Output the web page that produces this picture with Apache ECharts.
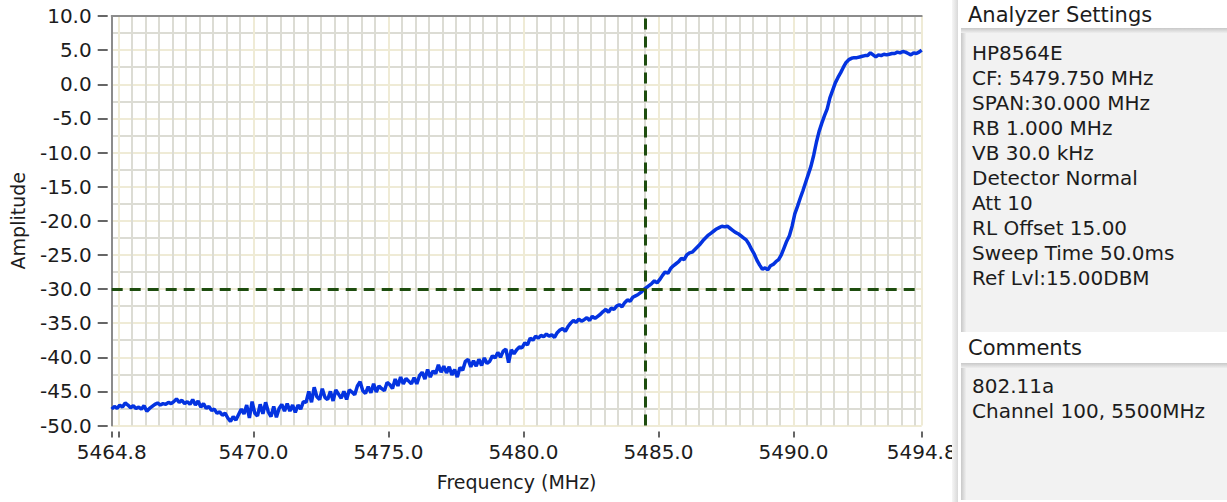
<!DOCTYPE html>
<html><head><meta charset="utf-8">
<script src="https://cdn.jsdelivr.net/npm/echarts@6/dist/echarts.min.js"></script>
<style>html,body{margin:0;padding:0;background:#fff;}#c{width:1227px;height:502px;}</style>
</head><body><div id="c"></div><script>
// Sweep grid (analyzer trace points)
const freqStart = 5464.75;
const freqStop = 5494.75;
const freqStep = 0.1;
// Amplitude, one value per 0.1 MHz
const amplitude = [
-47.6,-47.2,-47.5,-47.0,-47.3,-46.7,-47.0,-47.4,-47.1,-47.5,
-47.3,-47.6,-47.1,-47.9,-47.5,-47.2,-46.9,-46.7,-47.0,-46.8,
-46.9,-46.6,-46.8,-46.5,-46.1,-46.6,-46.3,-46.8,-46.5,-46.9,
-46.2,-47.0,-46.4,-47.3,-46.8,-47.5,-47.2,-47.8,-47.6,-48.2,
-48.0,-48.5,-48.2,-48.9,-49.4,-48.7,-49.2,-48.4,-47.6,-48.3,
-47.0,-48.9,-46.5,-48.2,-48.6,-46.9,-48.3,-46.6,-48.0,-48.7,
-47.2,-48.8,-47.5,-46.9,-47.9,-46.8,-47.9,-47.0,-48.1,-47.0,
-47.6,-46.5,-46.6,-45.0,-46.6,-44.4,-45.8,-46.2,-44.6,-45.9,
-46.2,-45.0,-46.4,-44.8,-45.4,-46.0,-45.0,-46.2,-44.8,-45.1,
-45.5,-44.2,-43.6,-44.9,-45.3,-44.3,-45.2,-43.9,-45.1,-44.2,
-44.6,-44.9,-43.7,-44.0,-44.6,-43.2,-44.2,-42.9,-43.9,-43.1,
-43.5,-43.9,-43.0,-43.9,-42.7,-42.2,-43.2,-41.8,-42.9,-42.0,
-42.4,-41.1,-42.2,-41.3,-42.3,-41.4,-42.6,-41.8,-42.9,-41.5,
-41.9,-40.6,-40.3,-41.4,-40.5,-41.3,-40.3,-41.2,-40.1,-40.9,
-40.6,-39.8,-40.1,-39.3,-40.0,-39.1,-38.8,-40.8,-38.9,-39.5,
-38.9,-38.5,-38.6,-37.9,-38.2,-37.2,-37.5,-36.9,-37.2,-36.8,
-37.0,-36.6,-36.9,-36.7,-37.1,-36.4,-36.0,-35.8,-36.2,-35.5,
-35.0,-34.6,-34.9,-34.4,-34.7,-34.5,-34.2,-34.6,-34.0,-34.3,
-34.0,-33.7,-33.3,-33.0,-33.4,-32.8,-33.0,-32.5,-32.3,-32.6,
-32.0,-31.6,-31.8,-31.2,-31.0,-30.8,-30.5,-30.1,-29.8,-29.5,
-29.2,-28.8,-29.1,-28.6,-28.0,-27.5,-27.7,-27.0,-26.6,-26.3,
-26.0,-25.5,-25.7,-25.0,-24.7,-24.6,-24.2,-23.8,-23.4,-22.9,
-22.5,-22.1,-21.8,-21.5,-21.2,-21.0,-20.8,-20.9,-20.8,-21.1,
-21.4,-21.7,-21.9,-22.2,-22.5,-22.8,-23.4,-24.2,-24.9,-25.8,
-26.5,-27.1,-26.9,-27.2,-26.6,-26.4,-26.0,-25.7,-25.0,-24.0,
-23.0,-22.2,-20.8,-19.0,-17.9,-16.7,-15.6,-14.4,-13.2,-12.0,
-10.4,-8.5,-6.9,-5.7,-4.6,-3.6,-2.0,-0.9,0.2,1.0,
1.7,2.5,3.2,3.6,3.8,3.9,3.9,4.0,4.1,4.2,
4.2,4.6,4.3,4.0,4.3,4.2,4.4,4.3,4.4,4.5,
4.5,4.7,4.6,4.8,4.7,4.5,4.3,4.6,4.5,4.7,
5.0
];
const xTickValues = [5464.75, 5465, 5470, 5475, 5480, 5485, 5490, 5494.75];
const xLabelValues = [5464.75, 5470, 5475, 5480, 5485, 5490, 5494.75];
const yMin = -50, yMax = 10, yStep = 5;
const cursorFreq = 5484.5;
const cursorAmp = -30;
const xTitle = 'Frequency (MHz)';
const yTitle = 'Amplitude';
const settingsTitle = 'Analyzer Settings';
const settingsLines = ['HP8564E','CF: 5479.750 MHz','SPAN:30.000 MHz','RB 1.000 MHz','VB 30.0 kHz','Detector Normal','Att 10','RL Offset 15.00','Sweep Time 50.0ms','Ref Lvl:15.00DBM'];
const commentsTitle = 'Comments';
const commentLines = ['802.11a','Channel 100, 5500MHz'];

const FONT = '"DejaVu Sans"';
const TXT = '#1c1c1c';
const traceData = amplitude.map((v, i) => [freqStart + i * freqStep, v]);

const chart = echarts.init(document.getElementById('c'), null, {renderer: 'svg'});
chart.setOption({
  animation: false,
  backgroundColor: '#ffffff',
  grid: {left: 111.7, right: 305.3, top: 16, bottom: 76.5, containLabel: false},
  xAxis: [{
    type: 'value', min: freqStart, max: freqStop, splitNumber: 6, offset: 6,
    name: xTitle, nameLocation: 'middle', nameGap: 41,
    nameTextStyle: {fontFamily: FONT, fontSize: 19, color: TXT},
    axisLine: {show: false, onZero: false},
    axisTick: {show: true, length: 6, customValues: xTickValues, lineStyle: {color: '#333', width: 1.5}},
    axisLabel: {show: true, customValues: xLabelValues, margin: 10, fontFamily: FONT, fontSize: 20, color: TXT,
      hideOverlap: false, showMinLabel: true, showMaxLabel: true,
      formatter: v => v.toFixed(1)},
    splitLine: {show: true, lineStyle: {color: '#efebd6', width: 2}},
    minorTick: {show: false, splitNumber: 10},
    minorSplitLine: {show: true, lineStyle: {color: '#dcdcd4', width: 2}}
  }, {
    type: 'value', position: 'top', min: freqStart, max: freqStop,
    axisLine: {show: true, onZero: false, lineStyle: {color: '#8c8c8c', width: 2}},
    axisTick: {show: false}, axisLabel: {show: false}, splitLine: {show: false}
  }],
  yAxis: [{
    type: 'value', min: yMin, max: yMax, interval: yStep, offset: 4,
    name: yTitle, nameLocation: 'middle', nameGap: 80, nameRotate: 90,
    nameTextStyle: {fontFamily: FONT, fontSize: 19, color: TXT},
    axisLine: {show: false, onZero: false},
    axisTick: {show: true, length: 10, lineStyle: {color: '#333', width: 1.5}},
    axisLabel: {margin: 16, fontFamily: FONT, fontSize: 20, color: TXT, formatter: v => v.toFixed(1)},
    splitLine: {show: true, lineStyle: {color: '#efebd6', width: 2}},
    minorTick: {show: false, splitNumber: 2},
    minorSplitLine: {show: true, lineStyle: {color: '#dcdcd4', width: 2}}
  }, {
    type: 'value', position: 'left', min: yMin, max: yMax,
    axisLine: {show: true, onZero: false, lineStyle: {color: '#8c8c8c', width: 2}},
    axisTick: {show: false}, axisLabel: {show: false}, splitLine: {show: false}
  }],
  series: [{
    type: 'line', xAxisIndex: 0, yAxisIndex: 0, data: traceData,
    showSymbol: false, symbol: 'none', smooth: false,
    lineStyle: {color: '#0433e0', width: 3.5}, z: 3,
    markLine: {
      silent: true, symbol: 'none', animation: false,
      label: {show: false},
      lineStyle: {color: '#1e4d0f', width: 3, type: [11, 7]},
      data: [{xAxis: cursorFreq}, {yAxis: cursorAmp}]
    }
  }],
  graphic: [
    {type: 'rect', z: 100, shape: {x: 952, y: 0, width: 6, height: 502},
      style: {fill: new echarts.graphic.LinearGradient(0, 0, 1, 0, [{offset: 0, color: '#f6f6f6'}, {offset: 1, color: '#d8d8d8'}])}},
    {type: 'rect', z: 100, shape: {x: 958, y: 0, width: 269, height: 502}, style: {fill: '#ffffff'}},
    {type: 'rect', z: 101, shape: {x: 961, y: 28, width: 266, height: 304}, style: {fill: '#f2f2f2'}},
    {type: 'rect', z: 102, shape: {x: 961, y: 28, width: 5, height: 304},
      style: {fill: new echarts.graphic.LinearGradient(0, 0, 1, 0, [{offset: 0, color: '#c8c8c8'}, {offset: 1, color: '#eeeeee'}])}},
    {type: 'rect', z: 102, shape: {x: 961, y: 28, width: 266, height: 5},
      style: {fill: new echarts.graphic.LinearGradient(0, 0, 0, 1, [{offset: 0, color: '#c8c8c8'}, {offset: 1, color: '#eeeeee'}])}},
    {type: 'rect', z: 101, shape: {x: 961, y: 363, width: 266, height: 137}, style: {fill: '#f2f2f2'}},
    {type: 'rect', z: 102, shape: {x: 961, y: 363, width: 5, height: 137},
      style: {fill: new echarts.graphic.LinearGradient(0, 0, 1, 0, [{offset: 0, color: '#c8c8c8'}, {offset: 1, color: '#eeeeee'}])}},
    {type: 'rect', z: 102, shape: {x: 961, y: 363, width: 266, height: 5},
      style: {fill: new echarts.graphic.LinearGradient(0, 0, 0, 1, [{offset: 0, color: '#c8c8c8'}, {offset: 1, color: '#eeeeee'}])}},
    {type: 'text', z: 103, x: 968, y: 4,
      style: {text: settingsTitle, font: '21px ' + FONT, fill: TXT, textVerticalAlign: 'top'}},
    {type: 'text', z: 103, x: 972, y: 40,
      style: {text: settingsLines.join('\n'), font: '20px ' + FONT, fill: TXT, lineHeight: 25, textVerticalAlign: 'top'}},
    {type: 'text', z: 103, x: 968, y: 337,
      style: {text: commentsTitle, font: '21px ' + FONT, fill: TXT, textVerticalAlign: 'top'}},
    {type: 'text', z: 103, x: 972, y: 373,
      style: {text: commentLines.join('\n'), font: '20px ' + FONT, fill: TXT, lineHeight: 25, textVerticalAlign: 'top'}}
  ]
});
</script></body></html>
